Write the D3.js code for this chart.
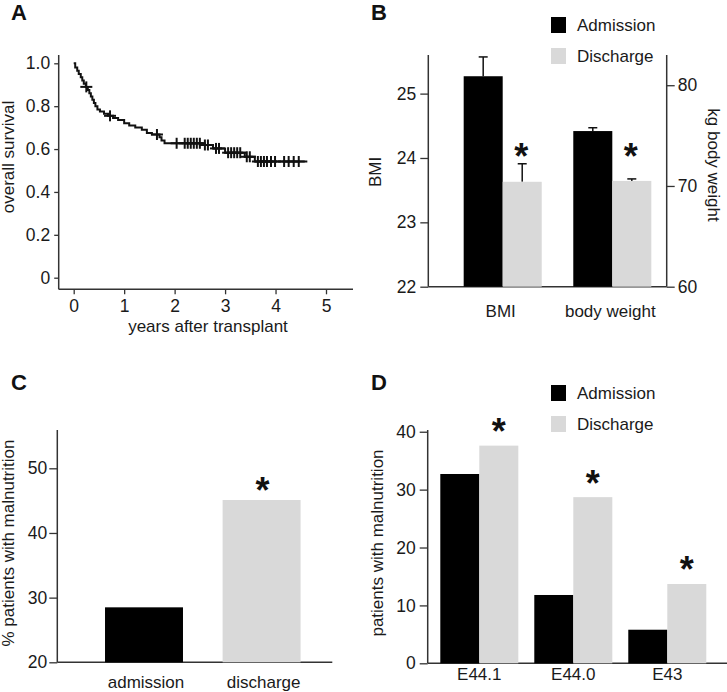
<!DOCTYPE html>
<html><head><meta charset="utf-8">
<script src="https://cdn.jsdelivr.net/npm/d3@7"></script>
<style>
body{margin:0;background:#fff;}
svg{display:block;font-family:"Liberation Sans",Arial,sans-serif;}
.tick text{font-size:17.5px;fill:#1a1a1a;font-family:"Liberation Sans",Arial,sans-serif;}
.tick line{stroke:#333;stroke-width:1.3;}
.domain{display:none;}
</style>
</head><body>
<script>
// ---------- DATA ----------
// Panel A: Kaplan-Meier overall survival
const survTimes  = [0, 0.03, 0.07, 0.10, 0.14, 0.17, 0.20, 0.24, 0.28, 0.31, 0.34, 0.37, 0.40, 0.43, 0.47, 0.52, 0.60, 0.68, 0.78, 0.88, 1.00, 1.10, 1.22, 1.35, 1.45, 1.55, 1.70, 1.74, 1.80, 2.56, 2.76, 3.00, 3.39, 3.59];
const survValues = [1.0, 0.98, 0.965, 0.95, 0.935, 0.92, 0.905, 0.89, 0.875, 0.86, 0.845, 0.83, 0.815, 0.80, 0.785, 0.775, 0.765, 0.755, 0.745, 0.735, 0.72, 0.71, 0.70, 0.69, 0.675, 0.668, 0.655, 0.64, 0.627, 0.619, 0.603, 0.583, 0.564, 0.542];
const survEndTime = 4.63;
const censorTimes = [0.25, 0.72, 1.65, 2.04, 2.20, 2.26, 2.32, 2.38, 2.44, 2.50, 2.60, 2.66, 2.82, 2.88, 3.06, 3.12, 3.18, 3.24, 3.30, 3.43, 3.49, 3.65, 3.71, 3.77, 3.83, 3.91, 3.99, 4.17, 4.26, 4.36, 4.46];
const survXTicks = [0, 1, 2, 3, 4, 5];
const survYTicks = [0, 0.2, 0.4, 0.6, 0.8, 1.0];

// Panel B: BMI and body weight
const bCategories = ["BMI", "body weight"];
const bAdmission = [25.27, 75.45];
const bAdmissionErr = [0.30, 0.33];
const bDischarge = [23.63, 70.50];
const bDischargeErr = [0.28, 0.20];
const bLeftTicks = [22, 23, 24, 25];
const bRightTicks = [60, 70, 80];

// Panel C: % patients with malnutrition
const cCategories = ["admission", "discharge"];
const cValues = [28.5, 45.1];
const cTicks = [20, 30, 40, 50];

// Panel D: patients with malnutrition by code
const dCategories = ["E44.1", "E44.0", "E43"];
const dAdmission = [32.7, 11.8, 5.8];
const dDischarge = [37.6, 28.7, 13.7];
const dTicks = [0, 10, 20, 30, 40];

const seriesNames = ["Admission", "Discharge"];
const colors = {Admission: "#000000", Discharge: "#d9d9d9"};
const AX = "#333";
const FS = 17;

// ---------- SVG ----------
const svg = d3.select("body").append("svg").attr("width", 727).attr("height", 692);

function panelLetter(t, x, y){
  svg.append("text").attr("x", x).attr("y", y).text(t)
    .attr("font-size", 22).attr("font-weight", "bold").attr("fill", "#111");
}
function vline(x, y1, y2){ svg.append("line").attr("x1",x).attr("x2",x).attr("y1",y1).attr("y2",y2).attr("stroke",AX).attr("stroke-width",1.5); }
function hline(y, x1, x2){ svg.append("line").attr("x1",x1).attr("x2",x2).attr("y1",y).attr("y2",y).attr("stroke",AX).attr("stroke-width",1.5); }
function rotLabel(text, x, y, angle){
  svg.append("text").attr("transform", `translate(${x},${y}) rotate(${angle})`)
    .attr("text-anchor","middle").attr("font-size",FS).attr("fill","#1a1a1a").text(text);
}
function star(x, yCenter){
  svg.append("text").attr("x", x).attr("y", yCenter + 14.5).attr("text-anchor","middle")
    .attr("font-size", 36).attr("font-weight","bold").attr("fill","#111").text("*");
}
function legend(x, y){
  seriesNames.forEach((s,i)=>{
    svg.append("rect").attr("x", x).attr("y", y + i*31).attr("width", 15).attr("height", 16).attr("fill", colors[s]);
    svg.append("text").attr("x", x + 26).attr("y", y + i*31 + 8).attr("dy","0.35em")
      .attr("font-size",FS).attr("fill","#1a1a1a").text(s);
  });
}

// ---------- PANEL A ----------
panelLetter("A", 11, 20);
const ax = d3.scaleLinear().domain([0,5]).range([73.7, 326]);
const ay = d3.scaleLinear().domain([0,1]).range([277.7, 63.3]);
vline(58.7, 55, 289.3);
hline(289.3, 58.7, 353);
svg.append("g").attr("transform","translate(58.7,0)")
  .call(d3.axisLeft(ay).tickValues(survYTicks).tickSize(4.5).tickPadding(4)
    .tickFormat(d => d === 0 ? "0" : d3.format(".1f")(d)));
svg.append("g").attr("transform","translate(0,289.3)")
  .call(d3.axisBottom(ax).tickValues(survXTicks).tickSize(5).tickPadding(5).tickFormat(d3.format("d")));
const survPts = survTimes.map((t,i)=>[t, survValues[i]]);
survPts.push([survEndTime, survValues[survValues.length-1]]);
svg.append("path").datum(survPts)
  .attr("d", d3.line().x(d=>ax(d[0])).y(d=>ay(d[1])).curve(d3.curveStepAfter))
  .attr("fill","none").attr("stroke","#111").attr("stroke-width",2);
function survAt(t){ let v = survValues[0]; survTimes.forEach((tt,i)=>{ if (tt <= t) v = survValues[i]; }); return v; }
const cg = svg.append("g").attr("stroke","#111").attr("stroke-width",2);
censorTimes.forEach(t=>{
  const cx = ax(t), cy = ay(survAt(t));
  cg.append("line").attr("x1",cx).attr("x2",cx).attr("y1",cy-5.5).attr("y2",cy+5.5);
  cg.append("line").attr("x1",cx-6).attr("x2",cx+6).attr("y1",cy).attr("y2",cy);
});
svg.append("text").attr("x", 208).attr("y", 332).attr("text-anchor","middle")
  .attr("font-size",FS).attr("fill","#1a1a1a").text("years after transplant");
rotLabel("overall survival", 14, 157, -90);

// ---------- PANEL B ----------
panelLetter("B", 371, 20);
const byL = d3.scaleLinear().domain([22, 25.6]).range([286.7, 55]);
const byR = d3.scaleLinear().domain([60, 83]).range([286.7, 55]);
const bx = d3.scaleBand().domain(bCategories).range([447.9, 667.1]).paddingInner(0.288).paddingOuter(0.144);
const bsub = d3.scaleBand().domain(seriesNames).range([0, bx.bandwidth()]);
const bStarGap = [9, 24];
vline(428.3, 55, 286.7);
vline(666.7, 55, 286.7);
hline(286.7, 428.3, 666.7);
svg.append("g").attr("transform","translate(428.3,0)")
  .call(d3.axisLeft(byL).tickValues(bLeftTicks).tickSize(8).tickPadding(4).tickFormat(d3.format("d")));
svg.append("g").attr("transform","translate(666.7,0)")
  .call(d3.axisRight(byR).tickValues(bRightTicks).tickSize(8).tickPadding(3).tickFormat(d3.format("d")));
bCategories.forEach((c,i)=>{
  const ys = i === 0 ? byL : byR;
  const vals = {Admission: [bAdmission[i], bAdmissionErr[i]], Discharge: [bDischarge[i], bDischargeErr[i]]};
  seriesNames.forEach(s=>{
    const x0 = bx(c) + bsub(s), w = bsub.bandwidth();
    const [v, e] = vals[s];
    const xm = x0 + w/2;
    svg.append("line").attr("x1",xm).attr("x2",xm).attr("y1",ys(v)).attr("y2",ys(v+e)).attr("stroke","#111").attr("stroke-width",1.5);
    svg.append("line").attr("x1",xm-4.5).attr("x2",xm+4.5).attr("y1",ys(v+e)).attr("y2",ys(v+e)).attr("stroke","#111").attr("stroke-width",1.5);
    svg.append("rect").attr("x", x0).attr("y", ys(v)).attr("width", w).attr("height", ys.range()[0] - ys(v)).attr("fill", colors[s]);
    if (s === "Discharge") star(xm - 1, ys(v+e) - bStarGap[i]);
  });
  svg.append("text").attr("x", bx(c) + bx.bandwidth()/2 - 2).attr("y", 317).attr("text-anchor","middle")
    .attr("font-size",FS).attr("fill","#1a1a1a").text(c);
});
legend(551, 17);
rotLabel("BMI", 381, 172, -90);
rotLabel("kg body weight", 708, 165, 90);

// ---------- PANEL C ----------
panelLetter("C", 11, 390);
const cy = d3.scaleLinear().domain([20, 56]).range([662.3, 429.5]);
const cx = d3.scaleBand().domain(cCategories).range([81.5, 324.1]).paddingInner(0.337).paddingOuter(0.2);
vline(57.3, 430, 662.3);
hline(662.3, 57.3, 332.3);
svg.append("g").attr("transform","translate(57.3,0)")
  .call(d3.axisLeft(cy).tickValues(cTicks).tickSize(8).tickPadding(2));
cCategories.forEach((c,i)=>{
  svg.append("rect").attr("x", cx(c)).attr("y", cy(cValues[i])).attr("width", cx.bandwidth())
    .attr("height", 662.3 - cy(cValues[i])).attr("fill", i === 0 ? colors.Admission : colors.Discharge);
  svg.append("text").attr("x", cx(c) + cx.bandwidth()/2 + 2).attr("y", 688).attr("text-anchor","middle")
    .attr("font-size",FS).attr("fill","#1a1a1a").text(c);
});
star(cx("discharge") + cx.bandwidth()/2 + 1, cy(cValues[1]) - 11.5);
rotLabel("% patients with malnutrition", 14, 543, -90);

// ---------- PANEL D ----------
panelLetter("D", 371, 390);
const dy = d3.scaleLinear().domain([0, 40.3]).range([663.3, 430]);
const dx = d3.scaleBand().domain(dCategories).range([430.9, 715.7]).paddingInner(0.17).paddingOuter(0.1);
const dsub = d3.scaleBand().domain(seriesNames).range([0, dx.bandwidth()]);
vline(427.7, 430, 663.3);
hline(663.3, 427.7, 727);
svg.append("g").attr("transform","translate(427.7,0)")
  .call(d3.axisLeft(dy).tickValues(dTicks).tickSize(8).tickPadding(4));
dCategories.forEach((c,i)=>{
  const vals = {Admission: dAdmission[i], Discharge: dDischarge[i]};
  seriesNames.forEach(s=>{
    svg.append("rect").attr("x", dx(c) + dsub(s)).attr("y", dy(vals[s])).attr("width", dsub.bandwidth())
      .attr("height", 663.3 - dy(vals[s])).attr("fill", colors[s]);
  });
  star(dx(c) + dsub("Discharge") + dsub.bandwidth()/2, dy(dDischarge[i]) - 16);
  svg.append("text").attr("x", dx(c) + dx.bandwidth()/2).attr("y", 680).attr("text-anchor","middle")
    .attr("font-size",FS).attr("fill","#1a1a1a").text(c);
});
legend(551, 385);
rotLabel("patients with malnutrition", 383, 543, -90);
</script>
</body></html>
